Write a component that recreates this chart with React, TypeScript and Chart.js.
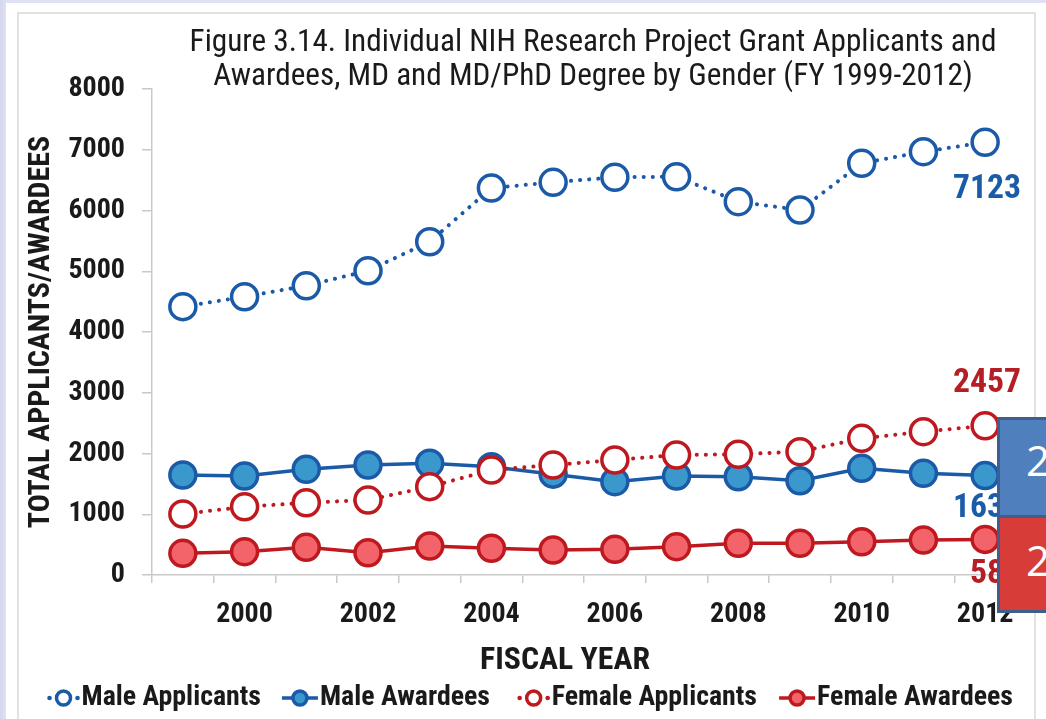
import React, { useEffect, useRef } from "react";
import { Chart, registerables } from "chart.js";

Chart.register(...registerables);

const years = ["1999", "2000", "2001", "2002", "2003", "2004", "2005", "2006", "2007", "2008", "2009", "2010", "2011", "2012"];
const maleApplicants = [4417, 4581, 4762, 5009, 5486, 6370, 6464, 6547, 6556, 6145, 6008, 6777, 6968, 7123];
const maleAwardees = [1646, 1630, 1740, 1811, 1839, 1783, 1660, 1536, 1630, 1618, 1552, 1756, 1674, 1636];
const femaleApplicants = [1004, 1124, 1189, 1235, 1454, 1728, 1811, 1893, 1975, 1987, 2030, 2250, 2359, 2457];
const femaleAwardees = [357, 384, 455, 367, 477, 440, 412, 423, 466, 522, 522, 548, 576, 586];
const yTicks = [0, 1000, 2000, 3000, 4000, 5000, 6000, 7000, 8000];
const titleLines = [
  "Figure 3.14. Individual NIH Research Project Grant Applicants and",
  "Awardees, MD and MD/PhD Degree by Gender (FY 1999-2012)",
];
const xTitle = "FISCAL YEAR";
const yTitle = "TOTAL APPLICANTS/AWARDEES";
const seriesNames = ["Male Applicants", "Male Awardees", "Female Applicants", "Female Awardees"];
const endLabels = ["7123", "1636", "2457", "586"];
const boxTexts = ["2", "2"];

const NARROW = '"Roboto Condensed", "Open Sans Condensed", sans-serif';
const BLUE = "#1b5aa6";
const BLUE_FILL = "#3a98cc";
const RED = "#bf1920";
const RED_FILL = "#f2636a";
const TEXT = "#1a1a1a";

function fitSize(ctx: any, text: string, weight: string, target: number) {
  ctx.font = `${weight} 20px ${NARROW}`;
  const w = ctx.measureText(text).width;
  return (20 * target) / w;
}

const overlayPlugin = {
  id: "overlayText",
  afterDatasetsDraw(chart: any) {
    const ctx = chart.ctx;
    ctx.save();
    const labelOffsets = [47, 33, -42, 35];
    const size = fitSize(ctx, "7123", "bold", 68);
    chart.data.datasets.forEach((ds: any, i: number) => {
      const meta = chart.getDatasetMeta(i);
      const pt = meta.data[meta.data.length - 1];
      if (!pt) return;
      ctx.font = `bold ${size}px ${NARROW}`;
      ctx.fillStyle = ds.labelColor;
      ctx.textAlign = "right";
      ctx.textBaseline = "middle";
      ctx.fillText(endLabels[i], 1021, pt.y + labelOffsets[i]);
    });
    ctx.restore();
  },
  afterDraw(chart: any) {
    const ctx = chart.ctx;
    ctx.save();
    // title
    const tSize = fitSize(ctx, titleLines[0], "normal", 807);
    ctx.font = `normal ${tSize}px ${NARROW}`;
    ctx.fillStyle = TEXT;
    ctx.textAlign = "center";
    ctx.textBaseline = "middle";
    ctx.fillText(titleLines[0], 593, 43);
    ctx.fillText(titleLines[1], 593, 77);
    // x axis title
    const xs = fitSize(ctx, xTitle, "bold", 170);
    ctx.font = `bold ${xs}px ${NARROW}`;
    ctx.fillText(xTitle, 565, 661);
    // legend
    const ends = [261, 490, 757, 1013];
    const ly = 698;
    const lSize = fitSize(ctx, seriesNames[3], "bold", 196);
    chart.data.datasets.forEach((ds: any, i: number) => {
      ctx.font = `bold ${lSize}px ${NARROW}`;
      const name = seriesNames[i];
      const w = ctx.measureText(name).width;
      const tx = ends[i] - w;
      ctx.fillStyle = TEXT;
      ctx.textAlign = "left";
      ctx.textBaseline = "middle";
      ctx.fillText(name, tx, ly);
      const color = ds.borderColor;
      if (ds.dotted) {
        const cx = tx - 18;
        ctx.fillStyle = color;
        ctx.beginPath();
        ctx.arc(cx - 14, ly, 2.3, 0, Math.PI * 2);
        ctx.fill();
        ctx.beginPath();
        ctx.arc(cx + 14, ly, 2.3, 0, Math.PI * 2);
        ctx.fill();
        ctx.beginPath();
        ctx.arc(cx, ly, 7, 0, Math.PI * 2);
        ctx.fillStyle = "#ffffff";
        ctx.fill();
        ctx.lineWidth = 3.5;
        ctx.strokeStyle = color;
        ctx.stroke();
      } else {
        const cx = tx - 20;
        ctx.strokeStyle = color;
        ctx.lineWidth = 3.5;
        ctx.beginPath();
        ctx.moveTo(cx - 18, ly);
        ctx.lineTo(cx + 18, ly);
        ctx.stroke();
        ctx.beginPath();
        ctx.arc(cx, ly, 7, 0, Math.PI * 2);
        ctx.fillStyle = ds.pointBackgroundColor;
        ctx.fill();
        ctx.lineWidth = 3.5;
        ctx.strokeStyle = color;
        ctx.stroke();
      }
    });
    ctx.restore();
  },
};

export default function App() {
  const canvasRef = useRef<HTMLCanvasElement | null>(null);

  useEffect(() => {
    document.body.style.margin = "0";
    const canvas = canvasRef.current;
    if (!canvas) return;
    const common = {
      pointRadius: 13,
      pointHoverRadius: 13,
      pointBorderWidth: 3.5,
      tension: 0,
    };
    const chart = new Chart(canvas, {
      type: "line",
      data: {
        labels: years,
        datasets: [
          {
            ...common,
            label: seriesNames[0],
            data: maleApplicants,
            borderColor: BLUE,
            borderWidth: 4,
            borderDash: [0.1, 9],
            borderCapStyle: "round",
            pointBackgroundColor: "#ffffff",
            pointBorderColor: BLUE,
            dotted: true,
            labelColor: "#1a5ca8",
            order: 1,
          } as any,
          {
            ...common,
            label: seriesNames[1],
            data: maleAwardees,
            borderColor: BLUE,
            borderWidth: 3.5,
            pointBackgroundColor: BLUE_FILL,
            pointBorderColor: BLUE,
            dotted: false,
            labelColor: "#1a5ca8",
            order: 2,
          } as any,
          {
            ...common,
            label: seriesNames[2],
            data: femaleApplicants,
            borderColor: RED,
            borderWidth: 4,
            borderDash: [0.1, 9],
            borderCapStyle: "round",
            pointBackgroundColor: "#ffffff",
            pointBorderColor: RED,
            dotted: true,
            labelColor: "#b51e24",
            order: 0,
          } as any,
          {
            ...common,
            label: seriesNames[3],
            data: femaleAwardees,
            borderColor: RED,
            borderWidth: 3.5,
            pointBackgroundColor: RED_FILL,
            pointBorderColor: RED,
            dotted: false,
            labelColor: "#b51e24",
            order: 3,
          } as any,
        ],
      },
      options: {
        animation: false,
        responsive: false,
        maintainAspectRatio: false,
        layout: { padding: { top: 89, left: 0, right: 30, bottom: 24 } },
        plugins: {
          legend: { display: false },
          title: { display: false },
          tooltip: { enabled: false },
        },
        scales: {
          x: {
            type: "category",
            offset: true,
            grid: {
              offset: true,
              drawOnChartArea: false,
              drawTicks: true,
              tickLength: 8,
              color: "#c9c9c9",
              lineWidth: 1.5,
            },
            border: { display: true, color: "#c9c9c9", width: 1.5 },
            ticks: {
              autoSkip: false,
              maxRotation: 0,
              minRotation: 0,
              padding: 15,
              color: TEXT,
              font: { family: NARROW, size: 28, weight: "bold" },
              callback: (_v: any, i: number) => (i % 2 === 1 ? years[i] : ""),
            },
            title: { display: false },
            afterFit: (s: any) => {
              s.height = 120;
            },
          },
          y: {
            min: 0,
            max: 8000,
            afterBuildTicks: (s: any) => {
              s.ticks = yTicks.map((v) => ({ value: v }));
            },
            grid: {
              drawOnChartArea: false,
              drawTicks: true,
              tickLength: 10,
              color: "#c9c9c9",
              lineWidth: 1.5,
            },
            border: { display: true, color: "#c9c9c9", width: 1.5 },
            ticks: {
              padding: 17,
              color: TEXT,
              font: { family: NARROW, size: 28, weight: "bold" },
              callback: (v: any) => String(v),
            },
            title: {
              display: true,
              text: yTitle,
              color: TEXT,
              font: { family: NARROW, size: 30, weight: "bold" },
              padding: { top: 23, bottom: 0 },
            },
            afterFit: (s: any) => {
              s.width = 152;
            },
          },
        },
      } as any,
      plugins: [overlayPlugin],
    });
    return () => chart.destroy();
  }, []);

  const boxBase: React.CSSProperties = {
    position: "absolute",
    left: 997,
    width: 70,
    boxSizing: "border-box",
    border: "3px solid #3d5f8e",
    color: "#ffffff",
    fontFamily: '"Open Sans", "Noto Sans", sans-serif',
    fontSize: 42,
    lineHeight: "1",
    paddingLeft: 26,
    display: "flex",
    alignItems: "center",
  };

  return (
    <div
      style={{
        position: "fixed",
        left: 0,
        top: 0,
        width: 1046,
        height: 719,
        overflow: "hidden",
        background: "linear-gradient(90deg, #d3d7ee 0px, #dfe2f3 6px)",
      }}
    >
      <div style={{ position: "absolute", left: 6, top: 3, right: 0, bottom: 0, background: "#ffffff" }} />
      <div
        style={{
          position: "absolute",
          left: 17,
          top: 12,
          width: 1019,
          height: 720,
          border: "2px solid #e2e2e2",
          boxSizing: "border-box",
        }}
      />
      <canvas ref={canvasRef} width={1046} height={719} style={{ position: "absolute", left: 0, top: 0, width: 1046, height: 719 }} />
      <div style={{ ...boxBase, top: 417, height: 101, background: "#4f80bd", paddingBottom: 16 }}>{boxTexts[0]}</div>
      <div style={{ ...boxBase, top: 515, height: 98, background: "#d83c38", paddingBottom: 8 }}>{boxTexts[1]}</div>
    </div>
  );
}
